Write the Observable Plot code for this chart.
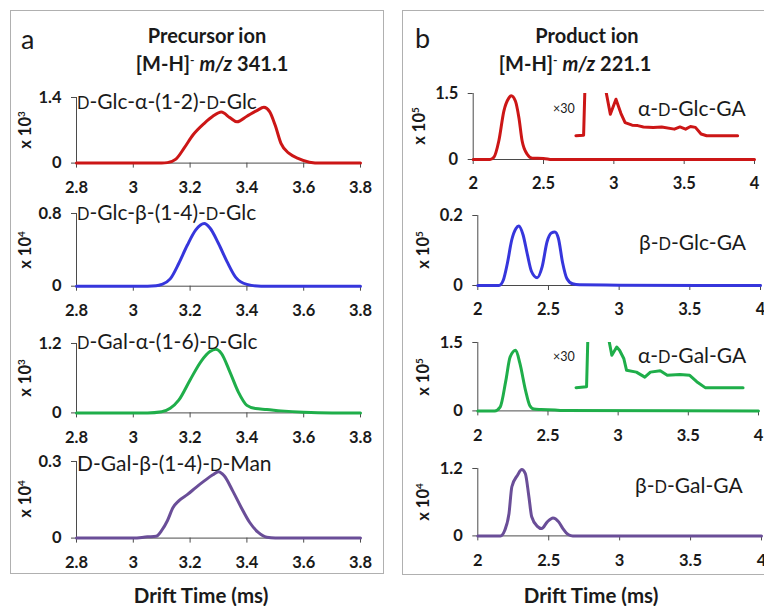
<!DOCTYPE html>
<html>
<head>
<meta charset="utf-8">
<script src="https://cdn.jsdelivr.net/npm/d3@7"></script>
<script src="https://cdn.jsdelivr.net/npm/@observablehq/plot@0.6"></script>
<style>
  html, body { margin: 0; padding: 0; background: #fff; }
  #wrap { position: relative; width: 764px; height: 606px; overflow: hidden; font-family: Lato, "Open Sans", "DejaVu Sans", sans-serif; color: #1a1a1a; }
  .box { position: absolute; border: 1px solid #b0b0b0; box-sizing: border-box; }
  .t { position: absolute; white-space: nowrap; line-height: 1; transform: translateY(-50%); }
  .c { transform: translate(-50%, -50%); }
  .rot { position: absolute; white-space: nowrap; line-height: 1; transform: translate(-50%, -50%) rotate(-90deg); font-weight: bold; font-size: 16.5px; }
  .sc { font-size: 0.78em; }
  sup { font-size: 0.6em; vertical-align: 0.6em; line-height: 0; }
</style>
</head>
<body>
<div id="wrap">
  <div class="box" style="left:10px;top:10px;width:374px;height:564px"></div>
  <div class="box" style="left:402px;top:10px;width:400px;height:565px"></div>

  <div class="t" style="left:21px;top:38px;font-size:27px">a</div>
  <div class="t c" style="left:207px;top:35px;font-size:20px;font-weight:bold">Precursor ion</div>
  <div class="t c" style="left:212px;top:63px;font-size:20px;font-weight:bold">[M-H]<sup>-</sup> <i>m/z</i> 341.1</div>

  <div class="t" style="left:415px;top:37px;font-size:27px">b</div>
  <div class="t c" style="left:587px;top:35px;font-size:20px;font-weight:bold">Product ion</div>
  <div class="t c" style="left:575px;top:63px;font-size:20px;font-weight:bold">[M-H]<sup>-</sup> <i>m/z</i> 221.1</div>

  <div class="t c" style="left:201px;top:595px;font-size:20.5px;font-weight:bold">Drift Time (ms)</div>
  <div class="t c" style="left:591px;top:595px;font-size:20.5px;font-weight:bold">Drift Time (ms)</div>
</div>
<script>
// ---------- data ----------
// Panel a: precursor ion, drift time (ms) vs intensity
const a1x = [2.8, 3.0, 3.1, 3.12, 3.15, 3.18, 3.21, 3.25, 3.28, 3.31, 3.34, 3.365, 3.40, 3.435, 3.46, 3.48, 3.50, 3.52, 3.55, 3.58, 3.62, 3.66, 3.8];
const a1y = [0, 0, 0, 0.01, 0.085, 0.33, 0.6, 0.85, 1.0, 1.09, 0.97, 0.88, 1.0, 1.12, 1.19, 1.1, 0.8, 0.42, 0.2, 0.1, 0.02, 0, 0];
const a2x = [2.8, 3.05, 3.08, 3.1, 3.13, 3.16, 3.19, 3.22, 3.25, 3.27, 3.3, 3.33, 3.36, 3.4, 3.45, 3.8];
const a2y = [0, 0, 0.005, 0.02, 0.08, 0.25, 0.45, 0.62, 0.69, 0.64, 0.47, 0.27, 0.1, 0.02, 0, 0];
const a3x = [2.8, 3.05, 3.1, 3.13, 3.16, 3.2, 3.24, 3.27, 3.29, 3.31, 3.34, 3.37, 3.4, 3.43, 3.47, 3.52, 3.6, 3.7, 3.8];
const a3y = [0, 0, 0.02, 0.08, 0.22, 0.57, 0.9, 1.06, 1.1, 1.03, 0.71, 0.36, 0.13, 0.075, 0.06, 0.035, 0.01, 0, 0];
const a4x = [2.8, 3.0, 3.05, 3.08, 3.1, 3.12, 3.14, 3.16, 3.19, 3.22, 3.25, 3.28, 3.3, 3.32, 3.35, 3.38, 3.41, 3.44, 3.47, 3.5, 3.8];
const a4y = [0, 0, 0.005, 0.007, 0.03, 0.068, 0.12, 0.146, 0.17, 0.198, 0.224, 0.248, 0.26, 0.244, 0.185, 0.12, 0.061, 0.022, 0.003, 0, 0];

// Panel b: product ion
const b1x = [2, 2.12, 2.147, 2.182, 2.218, 2.254, 2.27, 2.30, 2.325, 2.348, 2.384, 2.42, 2.5, 2.56, 4];
const b1y = [0, 0, 0.05, 0.42, 1.1, 1.4, 1.45, 1.33, 0.95, 0.42, 0.12, 0.03, 0.025, 0, 0];
const b1zx = [2.73, 2.785, 2.795, 2.935, 2.975, 3.015, 3.05, 3.08, 3.13, 3.17, 3.21, 3.28, 3.34, 3.43, 3.47, 3.51, 3.545, 3.58, 3.62, 3.66, 3.88];
const b1zy = [0.54, 0.55, 1.7, 1.7, 1.03, 1.37, 1.05, 0.84, 0.78, 0.77, 0.74, 0.73, 0.74, 0.69, 0.74, 0.69, 0.75, 0.73, 0.58, 0.54, 0.54];
const b2x = [2, 2.15, 2.18, 2.21, 2.24, 2.27, 2.29, 2.32, 2.35, 2.38, 2.42, 2.455, 2.49, 2.52, 2.545, 2.57, 2.60, 2.63, 2.67, 2.72, 3.0, 4];
const b2y = [0, 0, 0.015, 0.065, 0.13, 0.163, 0.17, 0.145, 0.09, 0.04, 0.022, 0.053, 0.125, 0.15, 0.153, 0.135, 0.065, 0.02, 0.005, 0.002, 0.001, 0];
const b3x = [2, 2.12, 2.16, 2.20, 2.23, 2.27, 2.30, 2.34, 2.37, 2.40, 2.45, 2.55, 2.6, 4];
const b3y = [0, 0, 0.09, 0.67, 1.18, 1.33, 1.04, 0.45, 0.12, 0.04, 0.03, 0.02, 0.01, 0];
const b3zx = [2.70, 2.775, 2.785, 2.925, 2.955, 2.99, 3.01, 3.04, 3.06, 3.13, 3.19, 3.23, 3.30, 3.35, 3.44, 3.51, 3.56, 3.62, 3.89];
const b3zy = [0.51, 0.53, 1.7, 1.7, 1.22, 1.40, 1.33, 1.15, 0.89, 0.85, 0.74, 0.85, 0.88, 0.78, 0.80, 0.78, 0.64, 0.51, 0.51];
const b4x = [2, 2.16, 2.19, 2.22, 2.24, 2.28, 2.31, 2.335, 2.36, 2.38, 2.42, 2.45, 2.49, 2.53, 2.57, 2.60, 2.64, 2.67, 4];
const b4y = [0, 0, 0.1, 0.4, 0.875, 1.08, 1.18, 1.11, 0.7, 0.34, 0.17, 0.13, 0.25, 0.32, 0.25, 0.13, 0.02, 0, 0];

// axis ticks
const aTicks = [2.8, 3, 3.2, 3.4, 3.6, 3.8];
const bTicks = [2, 2.5, 3, 3.5, 4];

// labels
const aLabels = [
  '<span class="sc">D</span>-Glc-α-(1-2)-<span class="sc">D</span>-Glc',
  '<span class="sc">D</span>-Glc-β-(1-4)-<span class="sc">D</span>-Glc',
  '<span class="sc">D</span>-Gal-α-(1-6)-<span class="sc">D</span>-Glc',
  'D-Gal-β-(1-4)-<span class="sc">D</span>-Man'
];
const bLabels = [
  'α-<span class="sc">D</span>-Glc-GA',
  'β-<span class="sc">D</span>-Glc-GA',
  'α-<span class="sc">D</span>-Gal-GA',
  'β-<span class="sc">D</span>-Gal-GA'
];
const aExp = ["3", "4", "3", "4"];
const bExp = ["5", "5", "5", "4"];
const aTop = [1.4, 0.8, 1.2, 0.3];
const bTop = [1.5, 0.2, 1.5, 1.2];
const aColors = ["#cc1616", "#3636dc", "#1fae4a", "#6a4e98"];
const bColors = ["#cc1616", "#3636dc", "#1fae4a", "#6a4e98"];

// ---------- drawing ----------
const wrap = document.getElementById("wrap");
const FONT = 'Lato, "Open Sans", "DejaVu Sans", sans-serif';

function addText(html, left, top, cls, style) {
  const d = document.createElement("div");
  d.className = cls;
  d.style.left = left + "px";
  d.style.top = top + "px";
  if (style) d.setAttribute("style", d.getAttribute("style") + ";" + style);
  d.innerHTML = html;
  wrap.appendChild(d);
}

function sub(cfg) {
  const {left, width, x0, x1, yTop, yZero, xdom, xticks, ytop, xs, ys, color, zx, zy} = cfg;
  const mT = 8, mB = 40;
  const height = mT + (yZero - yTop) + mB;
  const data = xs.map((x, i) => ({x, y: ys[i]}));
  const marks = [
    Plot.ruleY([0], {stroke: "#4a4a4a", strokeWidth: 1}),
    Plot.ruleX([xdom[0]], {y1: 0, y2: ytop, stroke: "#4a4a4a", strokeWidth: 1}),
    Plot.axisX({ticks: xticks, tickSize: 5, tickPadding: 13, tickFormat: d => String(d), stroke: "#4a4a4a", label: null}),
    Plot.axisY({ticks: [0, ytop], tickSize: 5, tickPadding: 10, tickFormat: d => String(d), stroke: "#4a4a4a", label: null}),
    Plot.line(data, {x: "x", y: "y", stroke: color, strokeWidth: 3, curve: "monotone-x"})
  ];
  if (zx) {
    const zd = zx.map((x, i) => ({x, y: zy[i]}));
    marks.push(Plot.line(zd, {x: "x", y: "y", stroke: color, strokeWidth: 3, curve: "linear", clip: true, strokeLinejoin: "round"}));
  }
  const svg = Plot.plot({
    width, height,
    marginLeft: x0 - left, marginRight: left + width - x1,
    marginTop: mT, marginBottom: mB,
    x: {domain: xdom},
    y: {domain: [0, ytop]},
    style: {fontFamily: FONT, fontSize: "16.5px", fontWeight: "bold", color: "#1a1a1a", background: "transparent", overflow: "visible"},
    marks
  });
  svg.style.position = "absolute";
  svg.style.left = left + "px";
  svg.style.top = (yTop - mT) + "px";
  wrap.appendChild(svg);
}

const aPos = [[96.7, 162.3], [213.3, 286], [343.3, 412.7], [460.7, 537.3]];
const aSeries = [[a1x, a1y], [a2x, a2y], [a3x, a3y], [a4x, a4y]];
const aLabelY = [101, 212, 341, 463];
aPos.forEach(([yT, yZ], i) => {
  sub({left: 0, width: 390, x0: 76, x1: 360, yTop: yT, yZero: yZ, xdom: [2.8, 3.8], xticks: aTicks,
       ytop: aTop[i], xs: aSeries[i][0], ys: aSeries[i][1], color: aColors[i]});
  addText(aLabels[i], 77, aLabelY[i], "t", "font-size:21px");
  addText("x 10<sup>" + aExp[i] + "</sup>", 25, (yT + yZ) / 2, "rot");
});

const bPos = [[472.7, 754, 92.7, 158.7], [477.3, 760, 215.3, 285.3], [477.3, 758, 342.3, 410.7], [477.3, 761, 468.3, 535.7]];
const bSeries = [[b1x, b1y, b1zx, b1zy], [b2x, b2y], [b3x, b3y, b3zx, b3zy], [b4x, b4y]];
const bLabelPos = [[638, 108], [639, 242], [638, 355], [635, 485]];
bPos.forEach(([x0, x1, yT, yZ], i) => {
  const s = bSeries[i];
  sub({left: 395, width: 385, x0, x1, yTop: yT, yZero: yZ, xdom: [2, 4], xticks: bTicks,
       ytop: bTop[i], xs: s[0], ys: s[1], zx: s[2], zy: s[3], color: bColors[i]});
  addText(bLabels[i], bLabelPos[i][0], bLabelPos[i][1], "t", "font-size:21px");
  addText("x 10<sup>" + bExp[i] + "</sup>", x0 - 54, (yT + yZ) / 2, "rot");
});
addText("×30", 553, 109, "t", "font-size:12.5px");
addText("×30", 553, 357, "t", "font-size:12.5px");
</script>
</body>
</html>
